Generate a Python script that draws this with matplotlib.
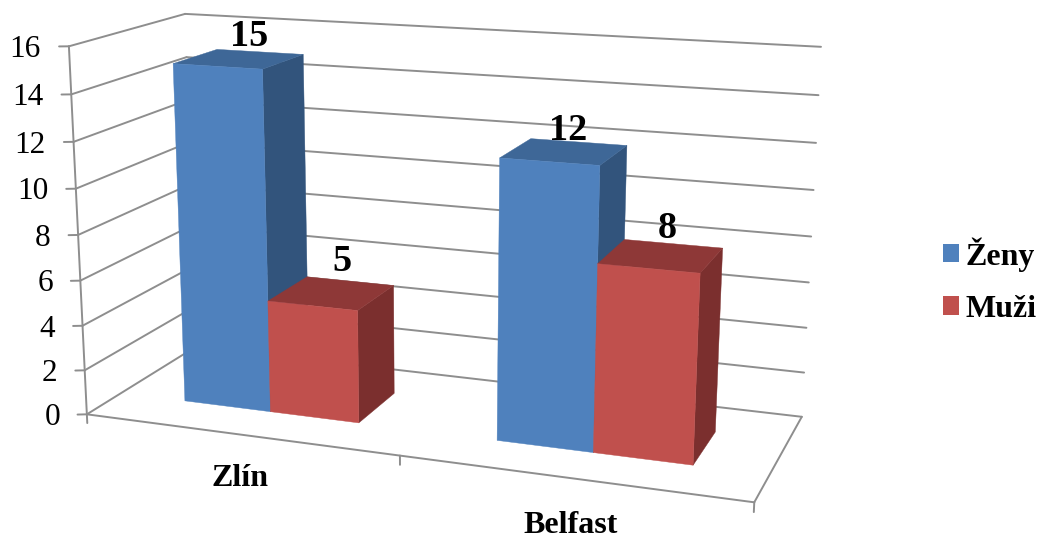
import numpy as np
import matplotlib
matplotlib.use("Agg")
import matplotlib.pyplot as plt
from matplotlib.patches import Patch
from mpl_toolkits.mplot3d.art3d import Line3DCollection, Poly3DCollection

# Data
categories = ["Zlín", "Belfast"]
series_names = ["Ženy", "Muži"]
zeny = [15, 12]
muzi = [5, 8]
value_ticks = [0, 2, 4, 6, 8, 10, 12, 14, 16]

# Bar layout inside a category slot and along the depth axis
BAR_WIDTH = 2 / 7
DEPTH_FRONT, DEPTH_BACK = 0.3, 0.7
Z_MAX = 16

# Face colours: (front, side, top)
BLUE = ("#4F81BD", "#32547C", "#3E6797")
RED = ("#C0504D", "#7B2F2E", "#8E3837")
GRID = "#8E8E8E"
SERIF = "Liberation Serif"

W, H = 1040, 533
fig = plt.figure(figsize=(W / 100, H / 100), dpi=100, facecolor="white")
ax = fig.add_axes([0, 0, 1, 1], projection="3d")
ax.set_xticks([])
ax.set_yticks([])
ax.set_zticks([])
ax.set_axis_off()
ax.computed_zorder = False

# Camera: a projective matrix solved from where the chart box corners sit on the canvas
box_corners = [
    ((0, 0, Z_MAX), (69, 46)), ((0, 0, 0), (87, 414)),
    ((0, 1, Z_MAX), (185, 14)), ((0, 1, 0), (196, 347)),
    ((2, 1, Z_MAX), (821, 47)), ((2, 1, 0), (802, 416)),
    ((2, 0, 0), (754, 503)),
]
rows, rhs = [], []
for (X, Y, Z), (u, v) in box_corners:
    rows.append([X, Y, Z, 1, 0, 0, 0, 0, -u * X, -u * Y, -u * Z])
    rhs.append(u)
    rows.append([0, 0, 0, 0, X, Y, Z, 1, -v * X, -v * Y, -v * Z])
    rhs.append(v)
solution = np.linalg.lstsq(np.array(rows, float), np.array(rhs, float), rcond=None)[0]
camera = np.append(solution, 1.0).reshape(3, 4)

ax.apply_aspect()
canvas_to_display = np.array([[1, 0, 0], [0, -1, H], [0, 0, 1]], float)
display_to_view = ax.transData.inverted().get_matrix()
view = display_to_view @ canvas_to_display @ camera
proj_matrix = np.vstack([view[0], view[1], [-1e-3, 1e-3, -1e-4, 0.5], view[2]])
ax.get_proj = lambda: proj_matrix


def text_at(x, y, z, label, **style):
    """Place a label at a chart position, projected to figure coordinates."""
    q = camera @ np.array([x, y, z, 1.0])
    u, v = q[:2] / q[2]
    fig.text(u / W, 1 - v / H, label, va="center", family=SERIF, color="black", **style)


# Wall gridlines, floor outline, value axis and tick marks
TICK_DX, TICK_DY = -0.025, -0.016
segments = []
for z in value_ticks:
    segments.append([(0, 0, z), (0, 1, z)])
    segments.append([(0, 1, z), (2, 1, z)])
    segments.append([(0, 0, z), (TICK_DX, TICK_DY, z)])
segments += [[(0, 0, 0), (2, 0, 0)], [(2, 0, 0), (2, 1, 0)], [(0, 0, 0), (0, 0, Z_MAX)]]
for x in range(len(categories) + 1):
    segments.append([(x, 0, 0), (x, 0, -0.4)])
frame_lines = Line3DCollection(segments, colors=GRID, linewidths=1.4, zorder=1,
                               capstyle="round")
ax.add_collection3d(frame_lines)
frame_lines.set_clip_on(False)

for z in value_ticks:
    text_at(2.9 * TICK_DX, 2.9 * TICK_DY, z - 0.12, str(z), ha="right", fontsize=22.5)


def add_face(verts, color, zorder):
    face = Poly3DCollection([verts], facecolors=color, edgecolors=color,
                            linewidths=0.3, zorder=zorder)
    ax.add_collection3d(face)
    face.set_clip_on(False)


def add_bar(x0, height, colors, zorder):
    x1 = x0 + BAR_WIDTH
    y0, y1 = DEPTH_FRONT, DEPTH_BACK
    front, side, top = colors
    add_face([(x1, y0, 0), (x1, y1, 0), (x1, y1, height), (x1, y0, height)], side, zorder)
    add_face([(x0, y0, height), (x1, y0, height), (x1, y1, height), (x0, y1, height)], top, zorder + 0.1)
    add_face([(x0, y0, 0), (x1, y0, 0), (x1, y0, height), (x0, y0, height)], front, zorder + 0.2)


# Bars with their value labels; each label is lifted a little above its bar top
label_shift = {(0, 0): (0.036, 0.96), (0, 1): (0.036, 1.45),
               (1, 0): (0.011, 0.87), (1, 1): (0.017, 1.12)}
order = 5
for i in range(len(categories)):
    for j, (values, colors) in enumerate(((zeny, BLUE), (muzi, RED))):
        x0 = i + 0.5 - BAR_WIDTH + j * BAR_WIDTH
        add_bar(x0, values[i], colors, order)
        order += 1
        dx, dz = label_shift[(i, j)]
        text_at(x0 + BAR_WIDTH / 2 + dx, 0.5, values[i] + dz, str(values[i]),
                ha="center", fontweight="bold", fontsize=27.5)

# Category labels below the floor
for i, name in enumerate(categories):
    text_at(i + 0.5, 0, -2.0, name, ha="center", fontweight="bold", fontsize=23)

handles = [Patch(facecolor=BLUE[0], edgecolor="none", label=series_names[0]),
           Patch(facecolor=RED[0], edgecolor="none", label=series_names[1])]
fig.legend(handles=handles, loc="center left", bbox_to_anchor=(943 / W, 1 - 280.5 / H),
           frameon=False, borderpad=0, borderaxespad=0, handlelength=0.5,
           handleheight=0.5, handletextpad=0.2, labelspacing=0.73,
           prop={"family": SERIF, "weight": "bold", "size": 23})

fig.savefig("out.png", dpi=100, facecolor="white")
